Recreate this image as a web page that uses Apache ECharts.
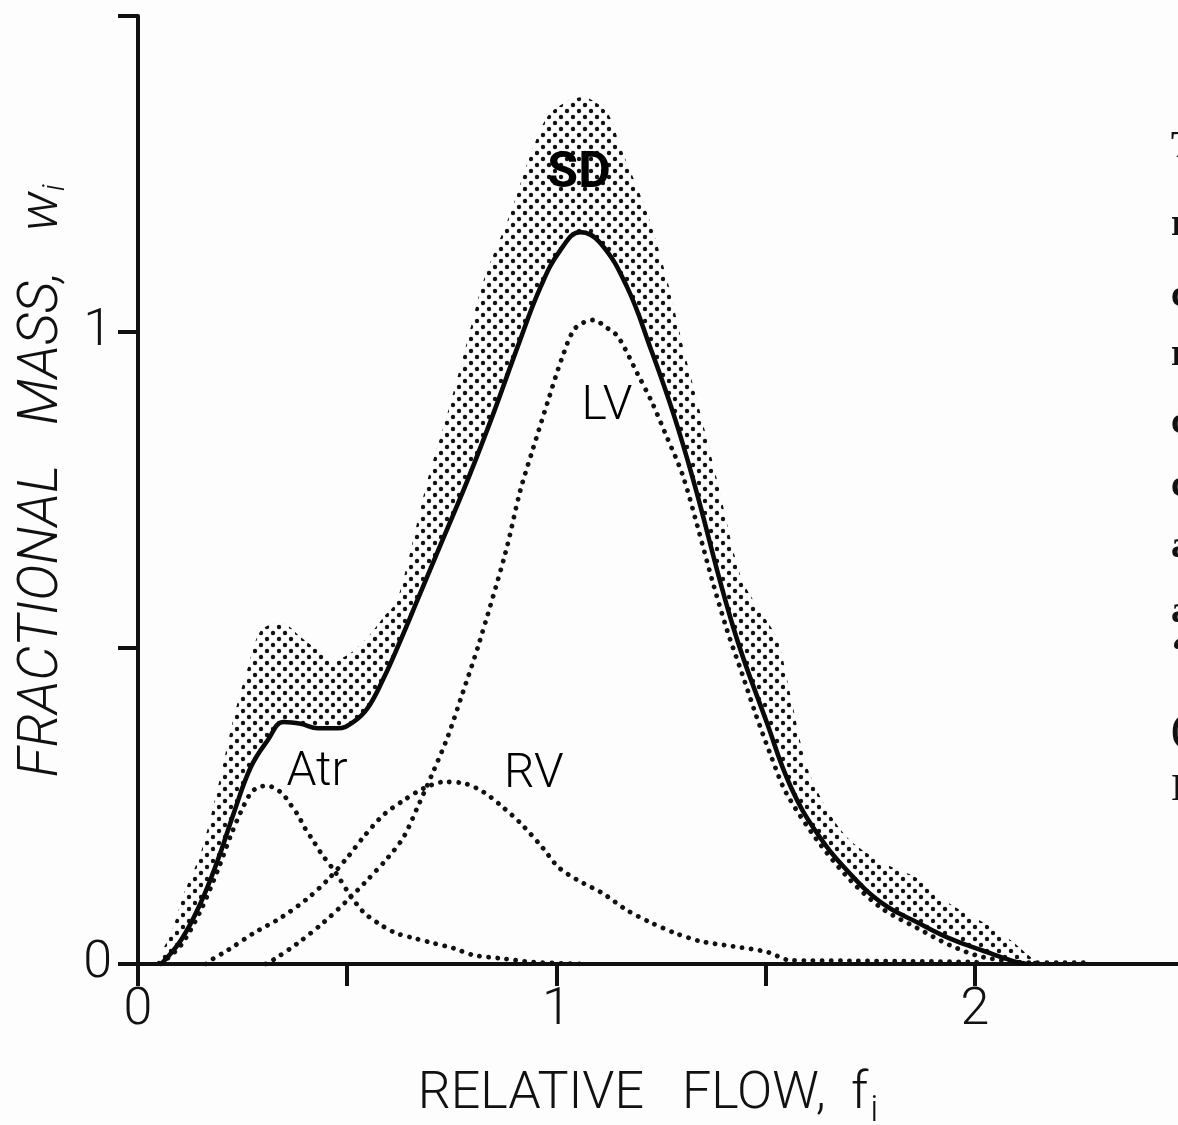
<!DOCTYPE html>
<html>
<head>
<meta charset="utf-8">
<script src="https://cdn.jsdelivr.net/npm/echarts@6/dist/echarts.min.js"></script>
<style>
  html, body { margin: 0; padding: 0; background: #fdfdfd; }
  #main { width: 1178px; height: 1125px; }
</style>
</head>
<body>
<div id="main"></div>
<script>
// ---- axis ticks / labels ----
const xTickLabels = { 0: '0', 1: '1', 2: '2' };
const yTickLabels = { 0: '0', 1: '1' };

// ---- mean fractional mass (solid line), [f, w] ----
const meanCurve = [
  [0.055, 0], [0.103, 0.038], [0.150, 0.097], [0.191, 0.165], [0.229, 0.239],
  [0.270, 0.312], [0.310, 0.354], [0.348, 0.383], [0.389, 0.380], [0.430, 0.373],
  [0.477, 0.373], [0.515, 0.383], [0.549, 0.405], [0.587, 0.452], [0.628, 0.513],
  [0.668, 0.576], [0.728, 0.671], [0.788, 0.766], [0.850, 0.872], [0.907, 0.976],
  [0.962, 1.071], [1.010, 1.130], [1.057, 1.158], [1.105, 1.141], [1.169, 1.071],
  [1.224, 0.976], [1.279, 0.872], [1.327, 0.766], [1.423, 0.532], [1.504, 0.380],
  [1.559, 0.282], [1.624, 0.206], [1.703, 0.142], [1.781, 0.095], [1.862, 0.066],
  [1.941, 0.040], [2.020, 0.021], [2.101, 0.003], [2.132, 0]
];

// ---- mean + SD (upper edge of stippled band), [f, w] ----
const upperSD = [
  [0.043, 0], [0.079, 0.049], [0.110, 0.112], [0.150, 0.176], [0.191, 0.280],
  [0.229, 0.391], [0.263, 0.470], [0.294, 0.528], [0.346, 0.540], [0.389, 0.517],
  [0.430, 0.497], [0.468, 0.481], [0.508, 0.492], [0.549, 0.517], [0.587, 0.549],
  [0.620, 0.576], [0.692, 0.766], [0.740, 0.872], [0.783, 0.976], [0.826, 1.082],
  [0.890, 1.188], [0.945, 1.293], [0.986, 1.347], [1.062, 1.372], [1.122, 1.347],
  [1.153, 1.293], [1.217, 1.188], [1.265, 1.082], [1.303, 0.976], [1.344, 0.872],
  [1.384, 0.766], [1.440, 0.614], [1.480, 0.566], [1.528, 0.514], [1.559, 0.427],
  [1.600, 0.310], [1.655, 0.236], [1.703, 0.195], [1.781, 0.160], [1.862, 0.136],
  [1.941, 0.095], [2.020, 0.066], [2.085, 0.038], [2.140, 0.008], [2.168, 0]
];

// ---- atria (dotted) ----
const atrCurve = [
  [0.055, 0], [0.103, 0.030], [0.150, 0.085], [0.191, 0.149], [0.222, 0.204],
  [0.246, 0.241], [0.270, 0.271], [0.289, 0.280], [0.310, 0.282], [0.329, 0.277],
  [0.346, 0.269], [0.365, 0.252], [0.382, 0.236], [0.399, 0.215], [0.418, 0.196],
  [0.437, 0.176], [0.473, 0.144], [0.504, 0.112], [0.539, 0.082], [0.580, 0.062],
  [0.616, 0.049], [0.659, 0.041], [0.706, 0.033], [0.754, 0.025], [0.802, 0.014],
  [0.866, 0.009], [0.945, 0.003], [1.064, 0]
];

// ---- right ventricle (dotted) ----
const rvCurve = [
  [0.162, 0], [0.174, 0.006], [0.215, 0.022], [0.277, 0.049], [0.341, 0.073],
  [0.406, 0.104], [0.453, 0.133], [0.501, 0.169], [0.539, 0.201], [0.587, 0.236],
  [0.635, 0.259], [0.683, 0.278], [0.730, 0.288], [0.778, 0.286], [0.826, 0.272],
  [0.874, 0.247], [0.914, 0.223], [0.967, 0.184], [1.005, 0.153], [1.050, 0.133],
  [1.110, 0.112], [1.169, 0.085], [1.224, 0.066], [1.284, 0.049], [1.344, 0.036],
  [1.422, 0.028], [1.504, 0.019], [1.558, 0.006], [1.702, 0.005], [2.000, 0.003],
  [2.024, 0]
];

// ---- left ventricle (dotted) ----
const lvCurve = [
  [0.305, 0], [0.322, 0.006], [0.382, 0.033], [0.444, 0.066], [0.501, 0.101],
  [0.544, 0.130], [0.597, 0.168], [0.635, 0.201], [0.668, 0.248], [0.704, 0.302],
  [0.740, 0.359], [0.776, 0.429], [0.814, 0.505], [0.878, 0.650], [0.914, 0.750],
  [0.943, 0.813], [0.979, 0.889], [1.014, 0.960], [1.045, 1.006], [1.088, 1.019],
  [1.122, 1.006], [1.148, 0.992], [1.193, 0.935], [1.229, 0.888], [1.260, 0.840],
  [1.301, 0.775], [1.337, 0.693], [1.372, 0.608], [1.408, 0.528], [1.444, 0.459],
  [1.477, 0.394], [1.513, 0.329], [1.549, 0.271], [1.623, 0.196], [1.702, 0.133],
  [1.780, 0.087], [1.862, 0.057], [1.940, 0.030], [2.019, 0.011], [2.138, 0.002],
  [2.203, 0.002], [2.279, 0.002]
];

// ---- stipple pattern ----
function makeStipple() {
  const c = document.createElement('canvas');
  c.width = 12; c.height = 12;
  const g = c.getContext('2d');
  g.fillStyle = '#111';
  [[3, 3], [9, 9]].forEach(([x, y]) => {
    g.beginPath(); g.arc(x, y, 2.2, 0, Math.PI * 2); g.fill();
  });
  return c;
}
const stipple = { image: makeStipple(), repeat: 'repeat' };

const FONT = 'Roboto, "Noto Sans", "DejaVu Sans", sans-serif';
const INK = '#111';

const dotted = {
  color: INK, width: 4.8, type: [0.1, 9], cap: 'round'
};

const chart = echarts.init(document.getElementById('main'), null, { renderer: 'canvas' });

const edgeLetters = [
  ['T', 148], ['r', 226], ['c', 297], ['r', 356], ['c', 424], ['c', 487],
  ['a', 548], ['a', 613], ['\u2018', 654], ['(', 732], ['I', 791]
];

chart.setOption({
  backgroundColor: '#fdfdfd',
  animation: false,
  grid: {
    left: 138, top: 16, width: 1046, height: 948,
    containLabel: false, outerBoundsMode: 'none'
  },
  xAxis: {
    type: 'value', min: 0, max: 2.5, interval: 0.5,
    name: 'RELATIVE   FLOW,  f{sub|i}',
    nameLocation: 'middle', nameGap: 96,
    nameTextStyle: {
      fontFamily: FONT, fontSize: 52, fontWeight: 300, color: INK,
      padding: [0, 26, 0, 0],
      rich: { sub: { fontFamily: FONT, fontSize: 36, fontWeight: 300, color: INK, padding: [34, 0, 0, 2] } }
    },
    axisLine: { show: true, onZero: false, lineStyle: { color: INK, width: 4 } },
    axisTick: { show: true, inside: false, length: 22, lineStyle: { color: INK, width: 4 } },
    axisLabel: {
      margin: 21, fontFamily: FONT, fontSize: 52, fontWeight: 300, color: INK,
      formatter: v => xTickLabels[v] ?? ''
    },
    splitLine: { show: false }
  },
  yAxis: {
    type: 'value', min: 0, max: 1.5, interval: 0.5,
    name: 'FRACTIONAL   MASS,   w{sub|i}',
    nameLocation: 'middle', nameRotate: 90, nameGap: 49,
    nameTextStyle: {
      fontFamily: FONT, fontSize: 55, fontWeight: 300, fontStyle: 'italic', color: INK,
      padding: [0, 0, 0, 18],
      rich: { sub: { fontFamily: FONT, fontSize: 32, fontWeight: 300, fontStyle: 'italic', color: INK, padding: [26, 0, 0, 0] } }
    },
    axisLine: { show: true, onZero: false, lineStyle: { color: INK, width: 4 } },
    axisTick: { show: true, inside: false, length: 20, lineStyle: { color: INK, width: 4 } },
    axisLabel: {
      margin: 26, fontFamily: FONT, fontSize: 52, fontWeight: 300, color: INK,
      padding: [14, 0, 0, 0],
      formatter: v => yTickLabels[v] ?? ''
    },
    splitLine: { show: false }
  },
  series: [
    {
      name: 'SD band', type: 'custom', z: 1,
      data: [[0, 0]],
      renderItem: (params, api) => {
        const pts = upperSD.map(p => api.coord(p))
          .concat(meanCurve.slice().reverse().map(p => api.coord(p)));
        return {
          type: 'polygon',
          shape: { points: pts, smooth: 0.3 },
          style: { fill: stipple, stroke: null, lineWidth: 0 }
        };
      },
      silent: true
    },
    { name: 'Atr', type: 'line', data: atrCurve, smooth: 0.3, showSymbol: false, lineStyle: dotted, z: 3 },
    { name: 'RV', type: 'line', data: rvCurve, smooth: 0.3, showSymbol: false, lineStyle: dotted, z: 3 },
    { name: 'LV', type: 'line', data: lvCurve, smooth: 0.3, showSymbol: false, lineStyle: dotted, z: 3 },
    {
      name: 'Mean', type: 'line', data: meanCurve, smooth: 0.42, showSymbol: false,
      lineStyle: { color: '#0a0a0a', width: 4.6 }, z: 4
    },
    {
      name: 'labels', type: 'scatter', z: 6, symbolSize: 2,
      itemStyle: { color: 'rgba(0,0,0,0)', opacity: 1 },
      label: {
        show: true, position: 'inside', formatter: '{b}', opacity: 1,
        textBorderWidth: 0,
        fontFamily: FONT, fontSize: 48, fontWeight: 300, color: '#000'
      },
      data: [
        { name: 'SD', value: [1.054, 1.25], label: { fontWeight: 'bold', fontSize: 50 } },
        { name: 'LV', value: [1.121, 0.881] },
        { name: 'Atr', value: [0.428, 0.302] },
        { name: 'RV', value: [0.946, 0.299] }
      ]
    }
  ],
  graphic: edgeLetters.map(([ch, y]) => ({
    type: 'text', left: 1171, top: y - 20, silent: true,
    style: { text: ch, fontFamily: '"Liberation Serif", serif', fontSize: 38, fontWeight: 'bold', fill: INK }
  }))
});
</script>
</body>
</html>
